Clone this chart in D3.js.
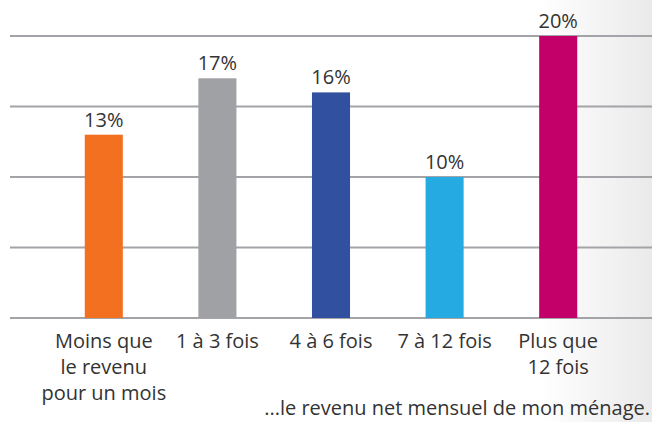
<!DOCTYPE html>
<html lang="fr">
<head>
  <meta charset="UTF-8">
  <title>Revenu net mensuel</title>
  <script src="https://d3js.org/d3.v7.min.js"></script>
  <style>
    body { margin: 0; padding: 0; background: #fff; }
    svg { display: block; font-family: "Open Sans", sans-serif; }
  </style>
</head>
<body>
<svg id="chart" width="652" height="422"></svg>
<script>
const categories = [
  ["Moins que", "le revenu", "pour un mois"],
  ["1 à 3 fois"],
  ["4 à 6 fois"],
  ["7 à 12 fois"],
  ["Plus que", "12 fois"]
];
const values = [13, 17, 16, 10, 20];
const colors = ["#f37021", "#a0a1a5", "#3150a0", "#25aae1", "#c30069"];
const gridTicks = [0, 5, 10, 15, 20];
const note = "...le revenu net mensuel de mon ménage.";

const width = 652, height = 422;
const svg = d3.select("#chart");

// soft grey fade on the right side
const grad = svg.append("defs").append("linearGradient")
  .attr("id", "fade").attr("x1", 0).attr("x2", 1).attr("y1", 0).attr("y2", 0);
grad.append("stop").attr("offset", "0%").attr("stop-color", "#ffffff");
grad.append("stop").attr("offset", "100%").attr("stop-color", "#eaeaea");
svg.append("rect")
  .attr("x", 540).attr("y", 0).attr("width", width - 540).attr("height", height)
  .attr("fill", "url(#fade)");

const keys = d3.range(values.length);
const x = d3.scaleBand().domain(keys).range([47, 615])
  .paddingInner(0.665).paddingOuter(0.3325);
const y = d3.scaleLinear().domain([0, 20]).range([318, 36]);

svg.append("g")
  .selectAll("line")
  .data(gridTicks)
  .join("line")
  .attr("x1", 10).attr("x2", width)
  .attr("y1", d => y(d)).attr("y2", d => y(d))
  .attr("stroke", "#a4a4a8")
  .attr("stroke-width", 2);

svg.append("g")
  .selectAll("rect")
  .data(keys)
  .join("rect")
  .attr("x", i => x(i))
  .attr("y", i => y(values[i]))
  .attr("width", x.bandwidth())
  .attr("height", i => y(0) - y(values[i]))
  .attr("fill", i => colors[i]);

svg.append("g")
  .selectAll("text")
  .data(keys)
  .join("text")
  .attr("x", i => x(i) + x.bandwidth() / 2)
  .attr("y", i => y(values[i]) - 8)
  .attr("text-anchor", "middle")
  .attr("font-size", 20)
  .attr("fill", "#333")
  .text(i => values[i] + "%");

const labels = svg.append("g")
  .selectAll("text")
  .data(keys)
  .join("text")
  .attr("x", i => x(i) + x.bandwidth() / 2)
  .attr("y", 348)
  .attr("text-anchor", "middle")
  .attr("font-size", 20)
  .attr("fill", "#333");

labels.selectAll("tspan")
  .data(i => categories[i].map(t => ({ t, i })))
  .join("tspan")
  .attr("x", d => x(d.i) + x.bandwidth() / 2)
  .attr("dy", (d, j) => j === 0 ? 0 : 26)
  .text(d => d.t);

svg.append("text")
  .attr("x", 650)
  .attr("y", 415)
  .attr("text-anchor", "end")
  .attr("font-size", 20)
  .attr("fill", "#333")
  .text(note);
</script>
</body>
</html>
